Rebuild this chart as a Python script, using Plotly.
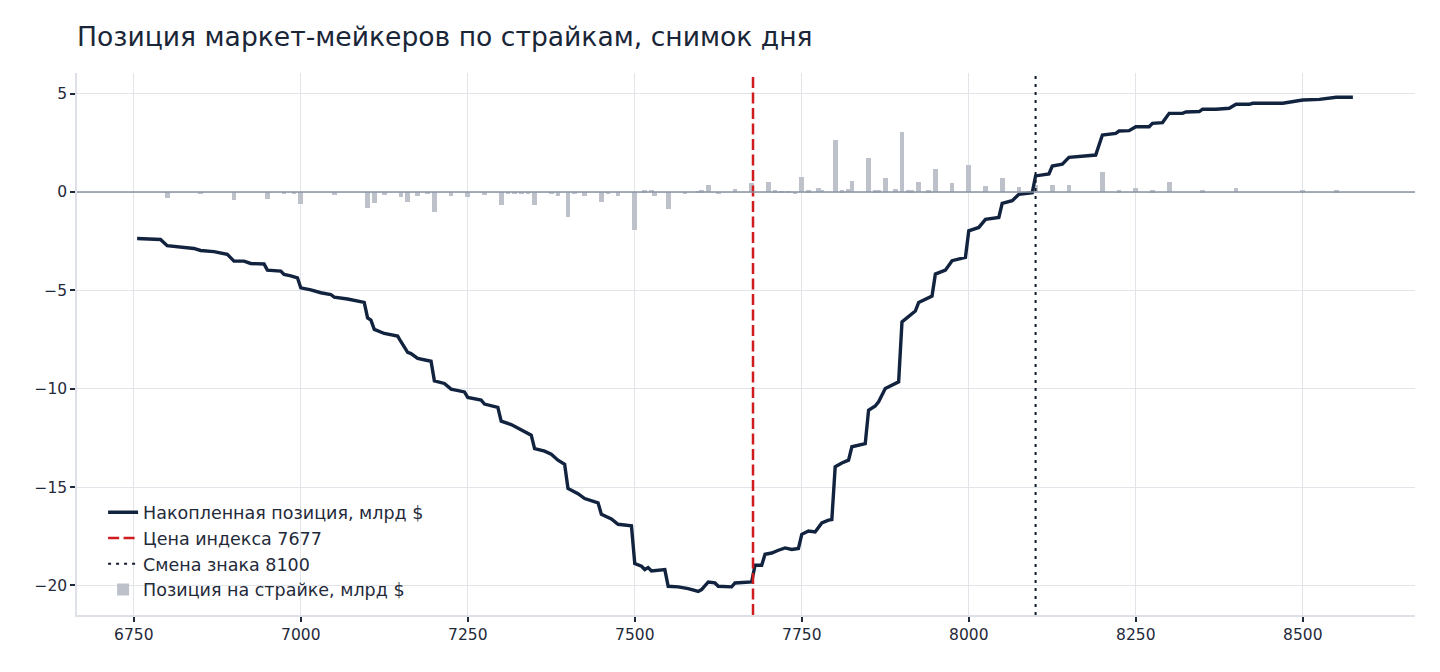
import plotly.graph_objects as go

# strikes and per-strike dealer position, bn $
bar_strikes = [6800, 6850, 6900, 6950, 6975, 6990, 7000, 7050, 7100, 7110,
               7125, 7150, 7160, 7175, 7190, 7200, 7225, 7250, 7275, 7300,
               7310, 7320, 7330, 7340, 7350, 7375, 7385, 7400, 7410, 7425,
               7450, 7460, 7475, 7500, 7515, 7525, 7530, 7550, 7575, 7595,
               7600, 7610, 7625, 7650, 7675, 7700, 7710, 7720, 7730, 7740,
               7750, 7760, 7775, 7780, 7800, 7810, 7820, 7825, 7850, 7860,
               7865, 7875, 7890, 7900, 7910, 7915, 7925, 7940, 7950, 7975,
               8000, 8025, 8050, 8075, 8100, 8125, 8150, 8200, 8225, 8250,
               8275, 8300, 8350, 8400, 8500, 8550]
bar_values = [-0.28, -0.08, -0.38, -0.34, -0.12, -0.10, -0.60, -0.14, -0.80, -0.54,
              -0.13, -0.23, -0.50, -0.22, -0.09, -1.01, -0.22, -0.27, -0.16, -0.64,
              -0.10, -0.08, -0.10, -0.08, -0.68, -0.10, -0.22, -1.25, -0.10, -0.18,
              -0.50, -0.08, -0.22, -1.92, 0.08, 0.12, -0.18, -0.84, -0.06, 0.06,
              0.10, 0.35, -0.12, 0.13, 0.46, 0.50, 0.08, 0.07, 0.07, -0.06,
              0.75, 0.08, 0.22, 0.12, 2.64, 0.08, 0.15, 0.56, 1.73, 0.08,
              0.08, 0.71, 0.13, 3.05, 0.10, 0.10, 0.50, 0.08, 1.17, 0.46,
              1.37, 0.30, 0.70, 0.24, 0.34, 0.34, 0.34, 1.02, 0.08, 0.18,
              0.08, 0.50, 0.08, 0.18, 0.08, 0.08]

# cumulative position, bn $
cum_strikes = [6755, 6790, 6800, 6820, 6840, 6850, 6870, 6890, 6900, 6915,
               6925, 6945, 6950, 6970, 6975, 6985, 6995, 7000, 7015, 7030,
               7045, 7050, 7070, 7095, 7100, 7105, 7110, 7125, 7145, 7150,
               7160, 7165, 7175, 7195, 7200, 7215, 7225, 7245, 7250, 7270,
               7275, 7295, 7300, 7315, 7330, 7345, 7350, 7365, 7375, 7385,
               7395, 7400, 7415, 7425, 7445, 7450, 7465, 7475, 7495, 7500,
               7510, 7515, 7520, 7525, 7545, 7550, 7565, 7580, 7595, 7600,
               7610, 7620, 7625, 7645, 7650, 7675, 7680, 7690, 7695, 7705,
               7715, 7725, 7735, 7745, 7750, 7760, 7770, 7780, 7790, 7795,
               7800, 7810, 7820, 7825, 7845, 7850, 7860, 7865, 7875, 7885,
               7895, 7900, 7910, 7920, 7925, 7940, 7945, 7950, 7965, 7975,
               7995, 8000, 8015, 8025, 8045, 8050, 8065, 8075, 8095, 8100,
               8120, 8125, 8140, 8150, 8170, 8190, 8200, 8220, 8225, 8240,
               8250, 8270, 8275, 8290, 8300, 8320, 8325, 8345, 8350, 8370,
               8390, 8400, 8420, 8425, 8470, 8500, 8525, 8550, 8575]
cum_values = [-2.36, -2.41, -2.73, -2.78, -2.87, -2.97, -3.03, -3.17, -3.51, -3.51,
              -3.63, -3.66, -3.97, -4.02, -4.19, -4.26, -4.36, -4.87, -4.97, -5.12,
              -5.21, -5.34, -5.44, -5.61, -6.40, -6.51, -6.98, -7.19, -7.32, -7.61,
              -8.15, -8.21, -8.46, -8.60, -9.60, -9.73, -10.02, -10.16, -10.44, -10.58,
              -10.78, -10.95, -11.65, -11.82, -12.07, -12.36, -13.04, -13.17, -13.33, -13.63,
              -13.84, -15.07, -15.33, -15.58, -15.80, -16.38, -16.62, -16.89, -16.97, -18.89,
              -19.02, -19.19, -19.09, -19.26, -19.19, -20.04, -20.07, -20.16, -20.30, -20.21,
              -19.82, -19.87, -20.04, -20.07, -19.87, -19.82, -18.97, -18.97, -18.41, -18.35,
              -18.21, -18.09, -18.17, -18.12, -17.40, -17.23, -17.28, -16.82, -16.68, -16.65,
              -13.97, -13.77, -13.63, -12.95, -12.79, -11.09, -10.88, -10.66, -9.99, -9.82,
              -9.65, -6.60, -6.31, -6.05, -5.61, -5.36, -5.29, -4.17, -3.97, -3.49,
              -3.32, -1.97, -1.80, -1.39, -1.29, -0.58, -0.44, -0.12, -0.03, 0.82,
              0.92, 1.32, 1.41, 1.76, 1.80, 1.88, 2.90, 2.98, 3.10, 3.12,
              3.32, 3.32, 3.49, 3.53, 4.00, 4.00, 4.07, 4.09, 4.21, 4.21,
              4.26, 4.46, 4.46, 4.51, 4.51, 4.68, 4.71, 4.82, 4.82]

spot = 7677
flip = 8100
x_range = [6665, 8668]
y_range = [-21.5, 6.05]

navy = "#12233f"
font = "DejaVu Sans"

# page body has an 8px margin, so the figure is a bit smaller than the window
W, H = 1432, 664

fig = go.Figure()

fig.add_trace(go.Bar(
    x=bar_strikes, y=bar_values, width=7,
    marker=dict(color="#bcc1ca", line_width=0),
    name="Позиция на страйке, млрд $",
    legendgroup="d", legendrank=4,
))
fig.add_trace(go.Scatter(
    x=cum_strikes, y=cum_values, mode="lines",
    line=dict(color=navy, width=3.4),
    name="Накопленная позиция, млрд $",
    legendgroup="a", legendrank=1,
))
fig.add_trace(go.Scatter(
    x=[spot, spot], y=y_range, mode="lines",
    line=dict(color="#d01c1f", width=2.5, dash="11px,4.5px"),
    name="Цена индекса %d" % spot,
    legendgroup="b", legendrank=2,
))
fig.add_trace(go.Scatter(
    x=[flip, flip], y=y_range, mode="lines",
    line=dict(color="#111a2b", width=2, dash="3px,5px"),
    name="Смена знака %d" % flip,
    legendgroup="c", legendrank=3,
))

axis_style = dict(
    showgrid=True, gridcolor="#e1e4e9", gridwidth=1.2,
    showline=True, linecolor="#dde1e7", linewidth=1.5,
    ticks="outside", ticklen=5, tickwidth=1.5, tickcolor="#1f2a3a",
    tickfont=dict(family=font, size=15.5, color="#1f2a3a"),
    zeroline=False,
)

fig.update_layout(
    width=W, height=H,
    margin=dict(l=69, r=25, t=65, b=57),
    paper_bgcolor="white", plot_bgcolor="white",
    font=dict(family=font, color="#1f2a3a"),
    title=dict(
        text="Позиция маркет-мейкеров по страйкам, снимок дня",
        x=69 / W, xanchor="left", xref="container",
        y=1 - 29 / H, yanchor="middle",
        font=dict(family=font, size=26.6, color="#1a2638"),
    ),
    xaxis=dict(range=x_range, tickvals=[6750, 7000, 7250, 7500, 7750, 8000, 8250, 8500],
               **axis_style),
    yaxis=dict(range=y_range, tickvals=[-20, -15, -10, -5, 0, 5], **axis_style),
    legend=dict(
        x=0.0195, y=0.014, xanchor="left", yanchor="bottom",
        bgcolor="rgba(0,0,0,0)", borderwidth=0,
        font=dict(family=font, size=17.5, color="#1f2a3a"),
        traceorder="grouped", tracegroupgap=0,
    ),
    bargap=0,
    showlegend=True,
)

# zero line above the bars
fig.add_hline(y=0, line=dict(color="#8a93a3", width=1.5), layer="above")

fig.write_html("out.html")
